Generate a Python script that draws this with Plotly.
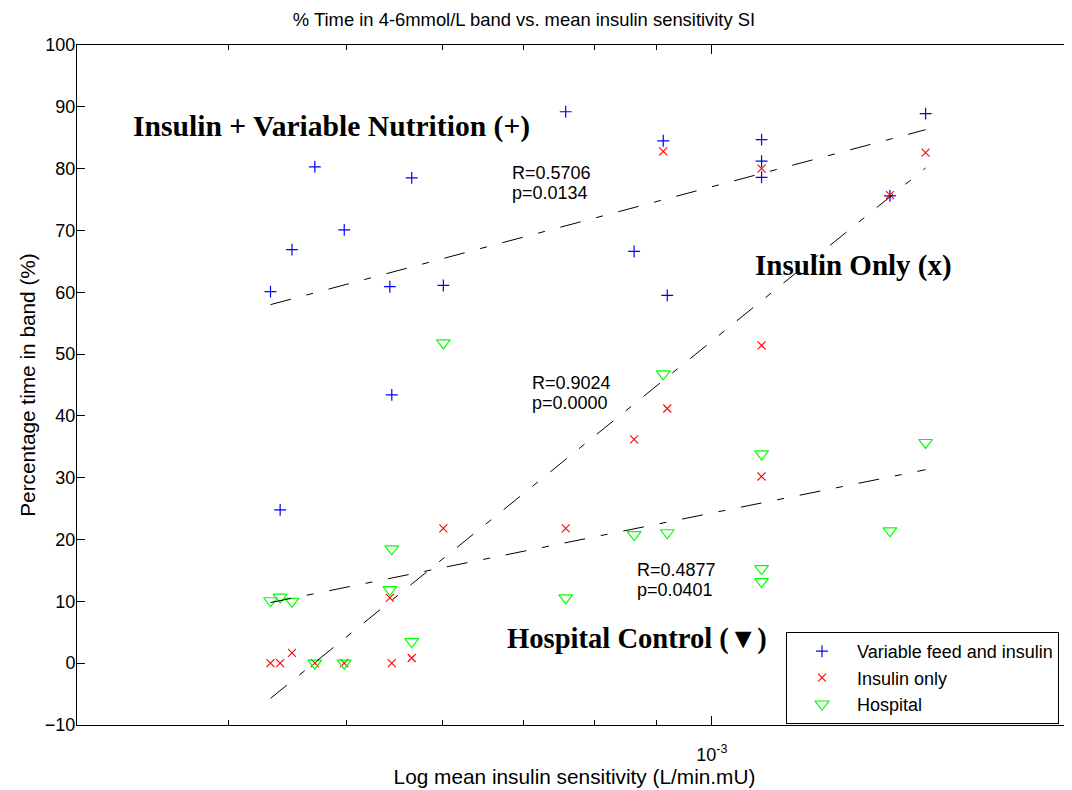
import plotly.graph_objects as go

# ---------------- data ----------------
si = [4.33e-4, 4.41e-4, 4.51e-4, 4.71e-4, 4.98e-4, 5.43e-4, 5.45e-4, 5.66e-4, 6.01e-4,
      7.58e-4, 8.63e-4, 9.12e-4, 9.19e-4, 1.099e-3, 1.099e-3, 1.099e-3, 1.402e-3, 1.500e-3]
variable_feed = [60.1, 24.8, 66.9, 80.3, 70.1, 60.9, 43.4, 78.5, 61.1,
                 89.2, 66.6, 84.5, 59.5, 84.7, 81.2, 78.6, 75.6, 88.9]
insulin_only = [0.0, 0.0, 1.65, 0.0, 0.0, 10.55, 0.0, 0.84, 21.8,
                21.8, 36.2, 82.8, 41.2, 80.0, 51.4, 30.2, 75.7, 82.6]
hospital = [10.1, 10.7, 10.0, 0.0, 0.0, 11.9, 18.5, 3.5, 51.8,
            10.55, 20.8, 46.8, 21.1, 33.85, 15.3, 13.2, 21.4, 35.7]

fit_si = [4.33e-4, 1.500e-3]
fit_variable = [58.0, 86.3]
fit_insulin = [-5.7, 80.1]
fit_hospital = [9.8, 31.3]

y_ticks = list(range(-10, 101, 10))
x_major = [1e-3]
x_major_text = ["10<sup>-3</sup>"]
x_minor = [3e-4, 4e-4, 5e-4, 6e-4, 7e-4, 8e-4, 9e-4, 2e-3]

series_names = ["Variable feed and insulin", "Insulin only", "Hospital"]
stats = [("R=0.5706", "p=0.0134"), ("R=0.9024", "p=0.0000"), ("R=0.4877", "p=0.0401")]
group_labels = ["Insulin + Variable Nutrition (+)", "Insulin Only (x)", "Hospital Control (\u25BC)"]

# ---------------- layout geometry (page pixels; page body has an 8px margin) ----------------
OFF = 8
PAGE_W, PAGE_H = 1072, 790
W, H = PAGE_W - OFF, PAGE_H - OFF
P_LEFT, P_RIGHT, P_TOP, P_BOTTOM = 77, 1072, 45, 725
ML, MR = P_LEFT - OFF, PAGE_W - P_RIGHT
MT, MB = P_TOP - OFF, PAGE_H - P_BOTTOM
PW, PH = P_RIGHT - P_LEFT, P_BOTTOM - P_TOP


def pxx(p):
    return (p - P_LEFT) / PW


def pxy(p):
    return (P_BOTTOM - p) / PH


SANS = "Liberation Sans, Arial, sans-serif"
SERIF = "Liberation Serif, Times New Roman, serif"
DASH = "21px,16px,7px,16px"

fig = go.Figure()

fig.add_trace(go.Scatter(x=si, y=variable_feed, mode="markers", name=series_names[0],
                         marker=dict(symbol="cross-thin-open", size=8.5, color="#0000FF",
                                     line=dict(color="#0000FF", width=1.2))))
fig.add_trace(go.Scatter(x=si, y=insulin_only, mode="markers", name=series_names[1],
                         marker=dict(symbol="x-thin-open", size=8, color="#FF0000",
                                     line=dict(color="#FF0000", width=1.1))))
fig.add_trace(go.Scatter(x=si, y=hospital, mode="markers", name=series_names[2],
                         marker=dict(symbol="triangle-down-open", size=12, color="#00FF00",
                                     line=dict(color="#00FF00", width=1.2))))

for fy in (fit_variable, fit_insulin, fit_hospital):
    fig.add_trace(go.Scatter(x=fit_si, y=fy, mode="lines", showlegend=False, hoverinfo="skip",
                             line=dict(color="black", width=1, dash=DASH)))

# invisible trace to carry the right-hand tick marks
fig.add_trace(go.Scatter(x=[None], y=[None], yaxis="y2", showlegend=False, hoverinfo="skip"))

annotations = []
stat_pos = [(512, 172.5, 193), (531.5, 382.5, 402.5), (636.5, 570, 590)]
for (r_txt, p_txt), (lx, y1, y2) in zip(stats, stat_pos):
    for txt, yy in ((r_txt, y1), (p_txt, y2)):
        annotations.append(dict(text=txt, xref="paper", yref="paper", x=pxx(lx - 2), y=pxy(yy),
                                xanchor="left", yanchor="middle", showarrow=False,
                                font=dict(family=SANS, size=18, color="black")))

label_pos = [(133, 126, 29.6), (755, 265.5, 29), (507, 639, 28.6)]
for txt, (lx, yy, fs) in zip(group_labels, label_pos):
    annotations.append(dict(text="<b>" + txt + "</b>", xref="paper", yref="paper",
                            x=pxx(lx - 2), y=pxy(yy), xanchor="left", yanchor="middle",
                            showarrow=False, font=dict(family=SERIF, size=fs, color="black")))

fig.update_layout(
    width=W, height=H,
    margin=dict(l=ML, r=MR, t=MT, b=MB, autoexpand=False),
    paper_bgcolor="white", plot_bgcolor="white",
    font=dict(family=SANS, size=18, color="black"),
    title=dict(text="% Time in 4-6mmol/L band vs. mean insulin sensitivity SI",
               x=(524 - OFF) / W, xanchor="center", xref="container",
               y=1 - (20 - OFF) / H, yanchor="middle", yref="container",
               font=dict(family=SANS, size=18.4, color="black")),
    xaxis=dict(type="log", range=[-3.5229, -3.5229 + PW / 1214.0],
               tickmode="array", tickvals=x_major, ticktext=x_major_text,
               ticks="inside", ticklen=9, tickwidth=1, tickcolor="black",
               minor=dict(tickmode="array", tickvals=x_minor, ticks="inside", ticklen=5,
                          tickwidth=1, tickcolor="black", showgrid=False),
               showline=True, linecolor="black", linewidth=1, mirror="ticks",
               showgrid=False, zeroline=False, ticklabelstandoff=13,
               tickfont=dict(family=SANS, size=18, color="black"),
               title=dict(text="Log mean insulin sensitivity (L/min.mU)", standoff=2,
                          font=dict(family=SANS, size=20.8, color="black"))),
    yaxis=dict(range=[-10, 100], tickmode="array", tickvals=y_ticks,
               ticks="inside", ticklen=8, tickwidth=1, tickcolor="black",
               showline=True, linecolor="black", linewidth=1,
               showgrid=False, zeroline=False, ticklabelstandoff=-3,
               tickfont=dict(family=SANS, size=18, color="black"),
               title=dict(text="Percentage time in band (%)", standoff=3,
                          font=dict(family=SANS, size=20.8, color="black"))),
    yaxis2=dict(range=[-10, 100], overlaying="y", side="right", tickmode="array",
                tickvals=y_ticks, ticks="inside", ticklen=4, tickwidth=1, tickcolor="black",
                showticklabels=False, showline=False, showgrid=False, zeroline=False),
    legend=dict(x=pxx(786), y=pxy(632), xanchor="left", yanchor="top",
                bgcolor="white", bordercolor="black", borderwidth=1,
                itemwidth=60, tracegroupgap=0,
                font=dict(family=SANS, size=18, color="black")),
    annotations=annotations,
    showlegend=True,
)

fig.write_html("out.html")
